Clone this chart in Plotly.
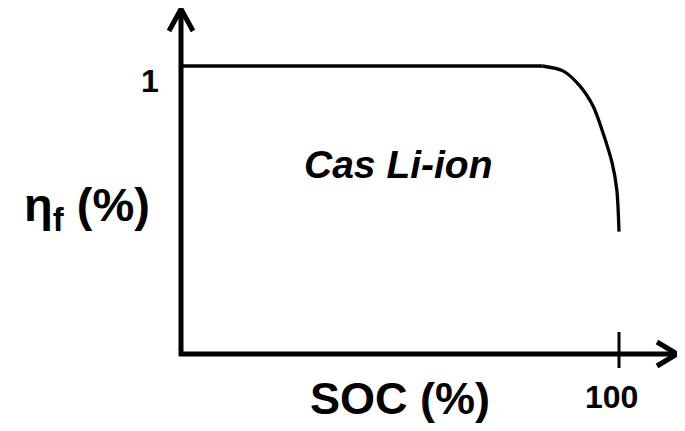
import plotly.graph_objects as go

# Data
soc = [0, 82.5, 87.2, 91.1, 94.1, 96.3, 98.4, 99.5, 100]
eta = [1, 1, 0.983, 0.93, 0.86, 0.77, 0.665, 0.57, 0.425]

x_tick_value = 100
x_tick_label = "100"
y_tick_value = 1
y_tick_label = "1"
x_title = "SOC (%)"
y_title = "η<sub>f</sub> (%)"
note = "Cas Li-ion"

WIN_W, WIN_H = 685, 431
OFF = 8  # page body margin
W, H = WIN_W - OFF, WIN_H - OFF

# reference-pixel anchors (window coordinates)
X0_PX, X100_PX = 181, 619
Y0_PX, Y1_PX = 354, 66
sx = (X100_PX - X0_PX) / 100.0
sy = (Y0_PX - Y1_PX) / 1.0
# figure pixel = window pixel - OFF
xr = [-(X0_PX - OFF) / sx, (W - (X0_PX - OFF)) / sx]
yr = [-(H - (Y0_PX - OFF)) / sy, (Y0_PX - OFF) / sy]

def px2x(p):
    return (p - X0_PX) / sx

def py2y(p):
    return (Y0_PX - p) / sy

FONT = "Arial, 'Liberation Sans', sans-serif"

fig = go.Figure()
# flat part
fig.add_trace(go.Scatter(x=soc[:2], y=eta[:2], mode="lines",
                         line=dict(color="black", width=3.3),
                         hoverinfo="skip", showlegend=False))
# falling part
fig.add_trace(go.Scatter(x=soc[1:], y=eta[1:], mode="lines",
                         line=dict(color="black", width=3.3, shape="spline", smoothing=0.8),
                         hoverinfo="skip", showlegend=False))

shapes = []
aw = 5
# y axis
shapes.append(dict(type="line", x0=0, y0=py2y(Y0_PX + 2), x1=0, y1=py2y(9), line=dict(color="black", width=aw)))
shapes.append(dict(type="path",
                   path=f"M {px2x(169)} {py2y(31)} L {px2x(181)} {py2y(9)} L {px2x(193)} {py2y(31)}",
                   line=dict(color="black", width=aw)))
# x axis
shapes.append(dict(type="line", x0=px2x(X0_PX - 2), y0=0, x1=px2x(677), y1=0, line=dict(color="black", width=aw)))
shapes.append(dict(type="path",
                   path=f"M {px2x(657)} {py2y(342)} L {px2x(677)} {py2y(354)} L {px2x(657)} {py2y(366)}",
                   line=dict(color="black", width=aw)))
# tick at 100
shapes.append(dict(type="line", x0=x_tick_value, y0=py2y(332), x1=x_tick_value, y1=py2y(368),
                   line=dict(color="black", width=3)))

annotations = [
    dict(x=px2x(150), y=py2y(81), text=f"<b>{y_tick_label}</b>", showarrow=False,
         font=dict(family=FONT, size=32, color="black")),
    dict(x=x_tick_value + px2x(611) - px2x(619), y=py2y(397), text=f"<b>{x_tick_label}</b>", showarrow=False,
         font=dict(family=FONT, size=32, color="black")),
    dict(x=px2x(400), y=py2y(398), text=f"<b>{x_title}</b>", showarrow=False,
         font=dict(family=FONT, size=45, color="black")),
    dict(x=px2x(87), y=py2y(208), text=f"<b>{y_title}</b>", showarrow=False,
         font=dict(family=FONT, size=47, color="black")),
    dict(x=px2x(398), y=py2y(164), text=f"<b><i>{note}</i></b>", showarrow=False,
         font=dict(family=FONT, size=39, color="black")),
]

fig.update_layout(
    width=W, height=H,
    margin=dict(l=0, r=0, t=0, b=0),
    paper_bgcolor="white", plot_bgcolor="white",
    xaxis=dict(range=xr, visible=False, fixedrange=True),
    yaxis=dict(range=yr, visible=False, fixedrange=True),
    shapes=shapes, annotations=annotations,
    showlegend=False,
)
fig.write_html("out.html")
